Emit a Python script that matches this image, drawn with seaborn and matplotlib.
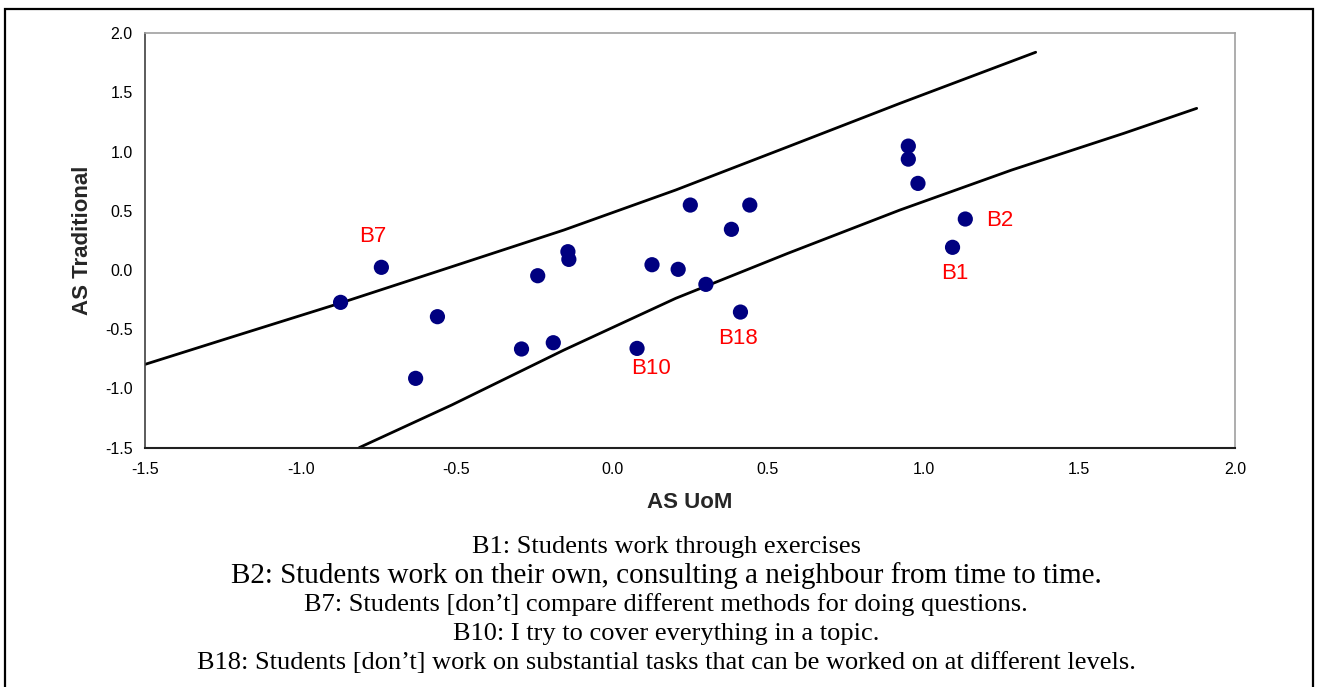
import matplotlib
matplotlib.use("Agg")
import matplotlib.pyplot as plt
import seaborn as sns
import pandas as pd
from matplotlib.patches import Rectangle
from matplotlib.ticker import FormatStrFormatter, MultipleLocator

# ---- data ----
uom_x = [-0.872, -0.741, -0.561, -0.631, -0.291, -0.239, -0.189, -0.142, -0.139,
         0.080, 0.128, 0.212, 0.301, 0.251, 0.383, 0.442, 0.412,
         0.951, 0.951, 0.982, 1.093, 1.134]
trad_y = [-0.273, 0.023, -0.394, -0.915, -0.667, -0.048, -0.614, 0.155, 0.090,
          -0.662, 0.045, 0.006, -0.121, 0.549, 0.344, 0.549, -0.355,
          1.047, 0.937, 0.732, 0.192, 0.431]

upper_x = [-1.50, -1.22, -0.875, -0.515, -0.155, 0.204, 0.564, 0.924, 1.36]
upper_y = [-0.797, -0.565, -0.281, 0.028, 0.338, 0.676, 1.041, 1.408, 1.84]
lower_x = [-0.812, -0.515, -0.155, 0.204, 0.564, 0.924, 1.283, 1.643, 1.877]
lower_y = [-1.50, -1.140, -0.676, -0.239, 0.141, 0.507, 0.845, 1.155, 1.366]

label_names = ["B7", "B2", "B1", "B18", "B10"]
label_x = [-0.77, 1.245, 1.10, 0.403, 0.124]
label_y = [0.28, 0.42, -0.03, -0.58, -0.83]

footnotes = [
    "B1: Students work through exercises",
    "B2: Students work on their own, consulting a neighbour from time to time.",
    "B7: Students [don\u2019t] compare different methods for doing questions.",
    "B10: I try to cover everything in a topic.",
    "B18: Students [don\u2019t] work on substantial tasks that can be worked on at different levels.",
]
footnote_sizes = [19, 21, 19, 19, 19]
footnote_ypx = [547, 576, 605, 634, 663]

x_label = "AS UoM"
y_label = "AS Traditional"

# ---- drawing ----
sns.set_theme(style="white")
plt.rcParams["font.family"] = ["Liberation Sans", "DejaVu Sans"]
plt.rcParams["axes.unicode_minus"] = False

W, H = 1317, 687
fig = plt.figure(figsize=(W / 100, H / 100), dpi=100)
ax_left, ax_right, ax_top, ax_bottom = 145, 1235, 33.3, 447.6
ax = fig.add_axes([ax_left / W, 1 - ax_bottom / H, (ax_right - ax_left) / W, (ax_bottom - ax_top) / H])

pts = pd.DataFrame({"x": uom_x, "y": trad_y})
up = pd.DataFrame({"x": upper_x, "y": upper_y})
lo = pd.DataFrame({"x": lower_x, "y": lower_y})

sns.lineplot(data=up, x="x", y="y", ax=ax, color="black", linewidth=2.0, sort=False, estimator=None)
sns.lineplot(data=lo, x="x", y="y", ax=ax, color="black", linewidth=2.0, sort=False, estimator=None)
sns.scatterplot(data=pts, x="x", y="y", ax=ax, color="#000080", s=120, edgecolor="none", zorder=3)

for name, lx, ly in zip(label_names, label_x, label_y):
    ax.text(lx, ly, name, color="#ff0000", fontsize=16, ha="center", va="center")

ax.set_xlim(-1.5, 2.0)
ax.set_ylim(-1.5, 2.0)
ax.xaxis.set_major_locator(MultipleLocator(0.5))
ax.yaxis.set_major_locator(MultipleLocator(0.5))
ax.xaxis.set_major_formatter(FormatStrFormatter("%.1f"))
ax.yaxis.set_major_formatter(FormatStrFormatter("%.1f"))
ax.tick_params(axis="both", direction="out", length=4, width=1, color="#808080",
               labelsize=11.5, labelcolor="black", pad=5)
ax.tick_params(axis="x", pad=6.5)

for side in ["top", "right"]:
    ax.spines[side].set_color("#a0a0a0")
    ax.spines[side].set_linewidth(1.2)
ax.spines["left"].set_color("#404040")
ax.spines["left"].set_linewidth(1.2)
ax.spines["bottom"].set_color("#202020")
ax.spines["bottom"].set_linewidth(1.5)

ax.set_xlabel(x_label, fontsize=16, fontweight="bold")
ax.set_ylabel(y_label, fontsize=16, fontweight="bold")
ax.xaxis.set_label_coords((690 - ax_left) / (ax_right - ax_left), (ax_bottom - 502) / (ax_bottom - ax_top))
ax.xaxis.label.set_verticalalignment("center")
ax.yaxis.set_label_coords((83 - ax_left) / (ax_right - ax_left), 0.5)
ax.yaxis.label.set_verticalalignment("center")

for txt, fs, ypx in zip(footnotes, footnote_sizes, footnote_ypx):
    fig.text(666 / W, 1 - ypx / H, txt, fontsize=fs, ha="center", va="center",
             family=["Liberation Serif", "DejaVu Serif"], color="black")

frame = Rectangle((5 / W, -0.05), (1313 - 5) / W, 1 - 9 / H + 0.05, transform=fig.transFigure,
                  fill=False, edgecolor="black", linewidth=1.6, clip_on=False)
fig.patches.append(frame)

fig.savefig("out.png", dpi=100, facecolor="white")
